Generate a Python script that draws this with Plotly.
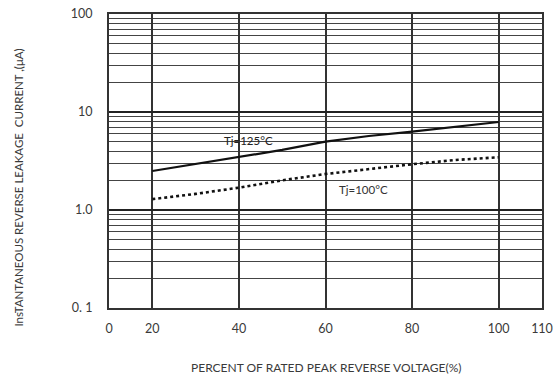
import plotly.graph_objects as go

# Data
voltage_pct = [20, 30, 40, 50, 60, 70, 80, 90, 100]
current_125 = [2.50, 2.95, 3.42, 4.10, 4.98, 5.69, 6.30, 7.08, 7.90]
current_100 = [1.29, 1.46, 1.69, 2.01, 2.33, 2.62, 2.93, 3.24, 3.45]

x_tickvals = [10, 20, 40, 60, 80, 100, 110]
x_ticktext = ["0", "20", "40", "60", "80", "100", "110"]
y_tickvals = [0.1, 1, 10, 100]
y_ticktext = ["0. 1", "1.0", "10", "100"]
y_minor = [m * d for d in (0.1, 1, 10) for m in range(2, 10)]

FONT = "Lato, 'Open Sans', sans-serif"
TXT = "#3a3a3a"

fig = go.Figure()
fig.add_trace(go.Scatter(x=voltage_pct, y=current_125, mode="lines",
                         line=dict(color="#111", width=2.2), showlegend=False))
fig.add_trace(go.Scatter(x=voltage_pct, y=current_100, mode="lines",
                         line=dict(color="#111", width=2.6, dash="dot"), showlegend=False))

fig.add_annotation(x=42.2, y=0.714, xref="x", yref="y", text="Tj=125°C", showarrow=False,
                   font=dict(family=FONT, size=11.5, color="#222"))
fig.add_annotation(x=68.8, y=0.214, xref="x", yref="y", text="Tj=100°C", showarrow=False,
                   font=dict(family=FONT, size=11.5, color="#333"))

fig.add_annotation(x=-0.21, y=0.41, xref="paper", yref="paper", textangle=-90,
                   text="InsTANTANEOUS REVERSE LEAKAGE  CURRENT ,(μA)", showarrow=False,
                   font=dict(family=FONT, size=11.5, color=TXT), xanchor="center", yanchor="middle")
fig.add_annotation(x=0.502, y=-0.204, xref="paper", yref="paper",
                   text="PERCENT OF RATED PEAK REVERSE VOLTAGE(%)", showarrow=False,
                   font=dict(family=FONT, size=12, color=TXT), xanchor="center", yanchor="middle")

fig.update_xaxes(range=[10, 110], tickvals=x_tickvals, ticktext=x_ticktext,
                 showgrid=True, gridcolor="#333", gridwidth=1.6, automargin=False,
                 showline=True, linecolor="#333", linewidth=2, mirror=True,
                 ticks="", ticklabelstandoff=8, zeroline=False,
                 tickfont=dict(family=FONT, size=12.5, color=TXT))
fig.update_yaxes(type="log", range=[-1, 2], tickvals=y_tickvals, ticktext=y_ticktext,
                 showgrid=True, gridcolor="#222", gridwidth=1.6, automargin=False,
                 minor=dict(tickvals=y_minor, showgrid=True, gridcolor="#444", gridwidth=1, ticks=""),
                 showline=True, linecolor="#333", linewidth=2, mirror=True,
                 ticks="", ticklabelstandoff=12, zeroline=False,
                 tickfont=dict(family=FONT, size=12.5, color=TXT))

fig.update_layout(width=554, height=378, margin=dict(l=109, r=12, t=14, b=70, autoexpand=False),
                  plot_bgcolor="white", paper_bgcolor="white", hovermode=False)
# remove the browser's default 8px body margin so the figure fills the window exactly
fig.write_html("out.html", config={"displayModeBar": False},
               post_script="document.body.style.margin='0';document.body.style.overflow='hidden';")
